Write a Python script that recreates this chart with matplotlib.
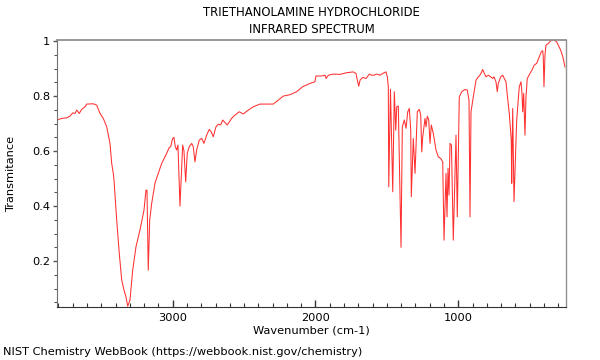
from matplotlib import pyplot as plt
from matplotlib.ticker import MultipleLocator
import numpy as np

# spectrum (wavenumber in cm-1, transmittance)
wavenumber = [3808, 3777, 3742, 3719, 3700, 3684, 3672, 3654, 3637, 3614,
              3602, 3556, 3532, 3509, 3486, 3462, 3439, 3427, 3416, 3411,
              3392, 3374, 3357, 3341, 3327, 3315, 3299, 3280, 3257, 3229,
              3201, 3187, 3180, 3171, 3161, 3147, 3124, 3101, 3077, 3042,
              3024, 3014, 3000, 2991, 2982, 2972, 2963, 2949, 2930, 2921,
              2909, 2898, 2884, 2867, 2856, 2844, 2832, 2814, 2797, 2781,
              2762, 2744, 2730, 2716, 2697, 2681, 2664, 2650, 2618, 2587,
              2564, 2534, 2506, 2471, 2436, 2389, 2296, 2261, 2226, 2179,
              2132, 2090, 2039, 2004, 1997, 1957, 1933, 1926, 1910, 1875,
              1828, 1782, 1735, 1716, 1707, 1697, 1688, 1669, 1646, 1623,
              1606, 1590, 1571, 1548, 1520, 1506, 1497, 1490, 1487, 1475,
              1459, 1448, 1438, 1431, 1420, 1401, 1392, 1378, 1366, 1354,
              1343, 1333, 1329, 1315, 1303, 1287, 1273, 1263, 1256, 1249,
              1240, 1233, 1226, 1217, 1207, 1198, 1189, 1175, 1156, 1140,
              1123, 1109, 1100, 1086, 1079, 1072, 1065, 1058, 1048, 1035,
              1016, 1007, 993, 976, 953, 937, 925, 918, 911, 895,
              876, 860, 848, 836, 829, 820, 806, 790, 773, 759,
              750, 736, 727, 720, 703, 689, 678, 666, 657, 643,
              629, 626, 619, 610, 591, 573, 561, 554, 549, 542,
              538, 533, 526, 517, 498, 482, 468, 451, 433, 419,
              409, 405, 400, 393, 386, 370, 353, 330, 311, 297,
              283, 269, 253]
transmittance = [0.713, 0.719, 0.721, 0.727, 0.739, 0.737, 0.749, 0.737, 0.752, 0.761,
                 0.771, 0.772, 0.767, 0.737, 0.719, 0.688, 0.628, 0.555, 0.519, 0.495,
                 0.349, 0.228, 0.131, 0.095, 0.070, 0.036, 0.058, 0.167, 0.252, 0.313,
                 0.385, 0.458, 0.458, 0.167, 0.349, 0.410, 0.483, 0.519, 0.555, 0.592,
                 0.613, 0.616, 0.646, 0.650, 0.616, 0.604, 0.622, 0.400, 0.622, 0.601,
                 0.488, 0.592, 0.616, 0.628, 0.616, 0.561, 0.604, 0.640, 0.646, 0.628,
                 0.658, 0.679, 0.670, 0.652, 0.688, 0.698, 0.695, 0.713, 0.695, 0.719,
                 0.731, 0.743, 0.735, 0.749, 0.761, 0.771, 0.771, 0.785, 0.800, 0.805,
                 0.816, 0.834, 0.846, 0.852, 0.873, 0.873, 0.876, 0.864, 0.876, 0.880,
                 0.879, 0.885, 0.888, 0.882, 0.858, 0.836, 0.858, 0.868, 0.864, 0.880,
                 0.876, 0.876, 0.880, 0.876, 0.885, 0.888, 0.870, 0.834, 0.470, 0.825,
                 0.452, 0.816, 0.676, 0.761, 0.764, 0.250, 0.688, 0.713, 0.683, 0.743,
                 0.755, 0.676, 0.434, 0.646, 0.519, 0.743, 0.752, 0.731, 0.597, 0.652,
                 0.688, 0.719, 0.688, 0.727, 0.713, 0.628, 0.695, 0.664, 0.604, 0.579,
                 0.573, 0.561, 0.276, 0.519, 0.361, 0.537, 0.440, 0.628, 0.622, 0.276,
                 0.658, 0.361, 0.797, 0.816, 0.824, 0.822, 0.785, 0.361, 0.743, 0.797,
                 0.858, 0.870, 0.876, 0.888, 0.897, 0.885, 0.870, 0.876, 0.870, 0.864,
                 0.870, 0.852, 0.816, 0.846, 0.870, 0.876, 0.864, 0.852, 0.804, 0.737,
                 0.640, 0.483, 0.755, 0.416, 0.713, 0.834, 0.852, 0.810, 0.743, 0.810,
                 0.737, 0.658, 0.797, 0.864, 0.882, 0.897, 0.913, 0.919, 0.943, 0.961,
                 0.965, 0.943, 0.834, 0.949, 0.985, 0.991, 1.001, 1.004, 0.997, 0.982,
                 0.967, 0.945, 0.906]

title_lines = ['TRIETHANOLAMINE HYDROCHLORIDE', 'INFRARED SPECTRUM']
x_label = 'Wavenumber (cm-1)'
y_label = 'Transmitance'
source = 'NIST Chemistry WebBook (https://webbook.nist.gov/chemistry)'

fig = plt.figure(figsize=(6, 3.6), dpi=100)
ax = fig.add_axes([0.0955, 0.1464, 0.8473, 0.7425])

ax.plot(wavenumber, transmittance, color='#ff3030', linewidth=0.75)

ax.set_xlim(3808, 248)
ax.set_ylim(0.032, 1.004)

ax.xaxis.set_major_locator(MultipleLocator(1000))
ax.xaxis.set_minor_locator(MultipleLocator(100))
ax.yaxis.set_major_locator(MultipleLocator(0.2))
ax.yaxis.set_minor_locator(MultipleLocator(0.05))
ax.set_yticks([0.2, 0.4, 0.6, 0.8, 1.0], ['0.2', '0.4', '0.6', '0.8', '1'])

ax.tick_params(axis='x', which='major', direction='in', length=5, width=1,
               labelsize=8.2, pad=4, color='#333333')
ax.tick_params(axis='x', which='minor', direction='in', length=3, width=0.8,
               color='#333333')
ax.tick_params(axis='y', which='major', direction='out', length=3, width=1,
               labelsize=8.2, pad=2, color='#555555')
ax.tick_params(axis='y', which='minor', direction='out', length=2, width=0.8,
               color='#555555')

ax.spines['top'].set_color('#909090')
ax.spines['top'].set_linewidth(1.3)
ax.spines['right'].set_color('#909090')
ax.spines['right'].set_linewidth(1.0)
ax.spines['left'].set_color('#707070')
ax.spines['bottom'].set_color('#333333')

ax.set_xlabel(x_label, fontsize=8.2, labelpad=2)
ax.set_ylabel(y_label, fontsize=8.2)
ax.yaxis.set_label_coords(-0.082, 0.5)

fig.text(0.519, 0.964, title_lines[0], ha='center', va='center', fontsize=8.4)
fig.text(0.519, 0.917, title_lines[1], ha='center', va='center', fontsize=8.4)
fig.text(0.005, 0.021, source, ha='left', va='center', fontsize=8.2)

plt.savefig('out.png', dpi=100)
